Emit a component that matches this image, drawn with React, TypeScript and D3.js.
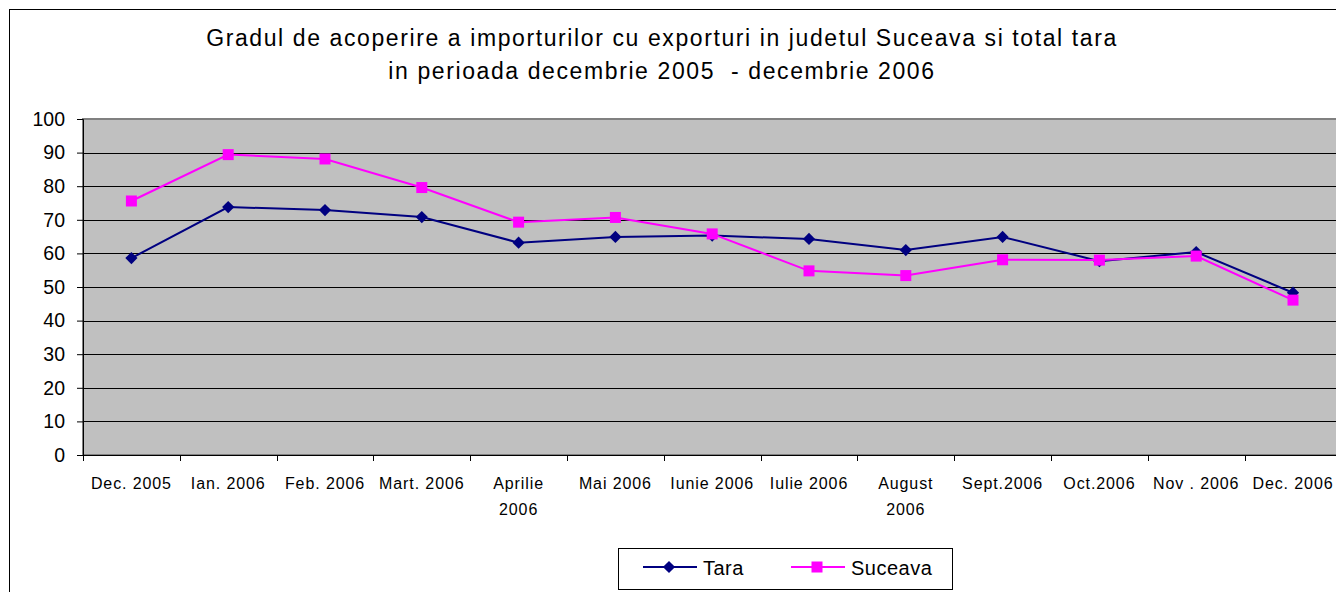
import React, { useRef, useEffect } from 'react';
import * as d3 from 'd3';

const titleLines = [
    'Gradul de acoperire a importurilor cu exporturi in judetul Suceava si total tara',
    'in perioada decembrie 2005  - decembrie 2006',
];

const months = [
    'Dec. 2005', 'Ian. 2006', 'Feb. 2006', 'Mart. 2006', 'Aprilie 2006', 'Mai 2006',
    'Iunie 2006', 'Iulie 2006', 'August 2006', 'Sept.2006', 'Oct.2006', 'Nov . 2006', 'Dec. 2006',
];

// labels that wrap on two lines
const monthLines: string[][] = [
    ['Dec. 2005'], ['Ian. 2006'], ['Feb. 2006'], ['Mart. 2006'], ['Aprilie', '2006'], ['Mai 2006'],
    ['Iunie 2006'], ['Iulie 2006'], ['August', '2006'], ['Sept.2006'], ['Oct.2006'], ['Nov . 2006'], ['Dec. 2006'],
];

const tara = [58.6, 73.8, 72.9, 70.8, 63.2, 64.9, 65.3, 64.3, 61.0, 64.9, 57.7, 60.4, 48.3];
const suceava = [75.6, 89.4, 88.1, 79.6, 69.3, 70.7, 65.8, 54.8, 53.4, 58.1, 58.0, 59.2, 46.1];

const yTicks = [0, 10, 20, 30, 40, 50, 60, 70, 80, 90, 100];

const W = 1336;
const H = 592;
const FONT = 'Liberation Sans, Arial, sans-serif';

export default function App() {
    const svgRef = useRef<SVGSVGElement>(null);

    useEffect(() => {
        if (!svgRef.current) return;
        const svg = d3.select(svgRef.current);
        svg.selectAll('*').remove();

        const plot = { left: 83, top: 119, right: 83 + 13 * 96.8, bottom: 455 };

        // outer chart border
        svg.append('rect')
            .attr('x', 9.5).attr('y', 9.5)
            .attr('width', W + 20).attr('height', H + 20)
            .attr('fill', '#fff').attr('stroke', '#000').attr('stroke-width', 1);

        // title
        const title = svg.append('text')
            .attr('text-anchor', 'middle')
            .attr('font-family', FONT)
            .attr('font-size', 23)
            .attr('letter-spacing', 1.6)
            .style('white-space', 'pre')
            .attr('fill', '#000');
        titleLines.forEach((t, i) => {
            title.append('tspan').attr('x', 662).attr('y', 46 + i * 33).text(t);
        });

        const x = d3.scaleBand<string>().domain(months).range([plot.left, plot.right]).padding(0);
        const y = d3.scaleLinear().domain([0, 100]).range([plot.bottom, plot.top]);

        // plot area
        svg.append('rect')
            .attr('x', plot.left).attr('y', plot.top)
            .attr('width', plot.right - plot.left).attr('height', plot.bottom - plot.top)
            .attr('fill', '#c0c0c0').attr('stroke', '#808080').attr('stroke-width', 2);

        // grid lines
        svg.append('g')
            .selectAll('line')
            .data(yTicks.filter(d => d > 0 && d < 100))
            .join('line')
            .attr('x1', plot.left).attr('x2', plot.right)
            .attr('y1', d => Math.round(y(d)) + 0.5).attr('y2', d => Math.round(y(d)) + 0.5)
            .attr('stroke', '#000').attr('stroke-width', 1);

        // y axis
        const yAxis = svg.append('g')
            .attr('transform', `translate(${plot.left},0)`)
            .call(d3.axisLeft(y).tickValues(yTicks).tickSize(6).tickPadding(12));
        yAxis.select('.domain').attr('stroke', '#000');
        yAxis.selectAll('.tick line').attr('stroke', '#000');
        yAxis.selectAll('text').attr('font-family', FONT).attr('font-size', 19.5).attr('fill', '#000');

        // x axis line + ticks at category boundaries
        svg.append('line')
            .attr('x1', plot.left).attr('x2', plot.right)
            .attr('y1', plot.bottom + 0.5).attr('y2', plot.bottom + 0.5)
            .attr('stroke', '#000');
        svg.append('g')
            .selectAll('line')
            .data(months.map(m => x(m) as number).concat([plot.right]))
            .join('line')
            .attr('x1', d => Math.round(d) + 0.5).attr('x2', d => Math.round(d) + 0.5)
            .attr('y1', plot.bottom).attr('y2', plot.bottom + 6)
            .attr('stroke', '#000');

        // x labels
        const xl = svg.append('g')
            .attr('font-family', FONT).attr('font-size', 16).attr('letter-spacing', 0.9)
            .attr('fill', '#000')
            .attr('text-anchor', 'middle');
        months.forEach((m, i) => {
            const cx = (x(m) as number) + x.bandwidth() / 2;
            const t = xl.append('text');
            monthLines[i].forEach((ln, j) => {
                t.append('tspan').attr('x', cx).attr('y', 489 + j * 26).text(ln);
            });
        });

        const cx = (i: number) => (x(months[i]) as number) + x.bandwidth() / 2;
        const line = d3.line<number>().x((_, i) => cx(i)).y(d => y(d));

        const diamond = d3.symbol().type(d3.symbolDiamond2).size(95);

        // Tara
        svg.append('path').datum(tara)
            .attr('fill', 'none').attr('stroke', '#000080').attr('stroke-width', 2)
            .attr('d', line);
        svg.append('g').selectAll('path').data(tara).join('path')
            .attr('transform', (d, i) => `translate(${cx(i)},${y(d)})`)
            .attr('d', diamond())
            .attr('fill', '#000080');

        // Suceava
        svg.append('path').datum(suceava)
            .attr('fill', 'none').attr('stroke', '#ff00ff').attr('stroke-width', 2)
            .attr('d', line);
        svg.append('g').selectAll('rect').data(suceava).join('rect')
            .attr('x', (d, i) => cx(i) - 5.5).attr('y', d => y(d) - 5.5)
            .attr('width', 11).attr('height', 11)
            .attr('fill', '#ff00ff');

        // legend
        const lg = svg.append('g');
        lg.append('rect')
            .attr('x', 618.5).attr('y', 548.5).attr('width', 334).attr('height', 41)
            .attr('fill', '#fff').attr('stroke', '#000');
        lg.append('line').attr('x1', 643).attr('x2', 697).attr('y1', 567).attr('y2', 567)
            .attr('stroke', '#000080').attr('stroke-width', 2);
        lg.append('path').attr('transform', 'translate(669,567)').attr('d', diamond()).attr('fill', '#000080');
        lg.append('text').attr('x', 703).attr('y', 575)
            .attr('font-family', FONT).attr('font-size', 20).attr('letter-spacing', 0.5).text('Tara');
        lg.append('line').attr('x1', 791).attr('x2', 845).attr('y1', 567).attr('y2', 567)
            .attr('stroke', '#ff00ff').attr('stroke-width', 2);
        lg.append('rect').attr('x', 811.5).attr('y', 561.5).attr('width', 11).attr('height', 11).attr('fill', '#ff00ff');
        lg.append('text').attr('x', 851).attr('y', 575)
            .attr('font-family', FONT).attr('font-size', 20).attr('letter-spacing', 0.5).text('Suceava');
    }, []);

    return (
        <div style={{ position: 'absolute', left: 0, top: 0, width: W, height: H, overflow: 'hidden' }}>
            <svg ref={svgRef} width={W} height={H} style={{ display: 'block', background: '#fff' }} />
        </div>
    );
}
